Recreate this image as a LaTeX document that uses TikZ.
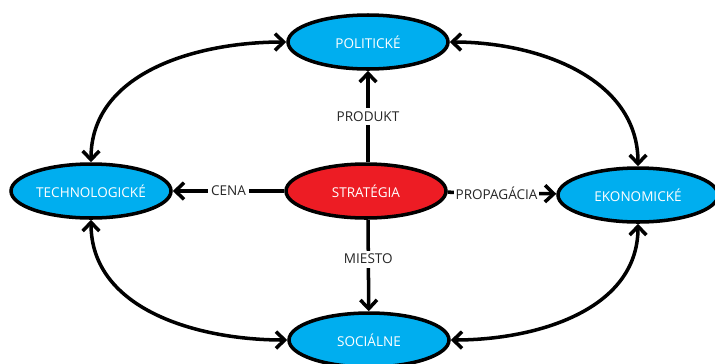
\documentclass[tikz,border=0pt]{standalone}
\usepackage{fontspec}
\setmainfont{Open Sans}
\usetikzlibrary{shapes.geometric,arrows.meta}
\definecolor{modra}{RGB}{0,174,239}
\definecolor{cervena}{RGB}{237,28,36}

\begin{document}
\begin{tikzpicture}[
    oblast/.style={ellipse, draw=black, line width=2pt, fill=modra,
        minimum width=3.2cm, minimum height=1.08cm, inner sep=0pt,
        text=white, font=\fontsize{7.7}{9}\selectfont},
    sipka/.style={line width=2pt, -{Straight Barb[length=5pt,width=9.5pt]}},
    obojsipka/.style={line width=2pt,
        {Straight Barb[length=5pt,width=9.5pt]}-{Straight Barb[length=5pt,width=9.5pt]}},
    popis/.style={fill=white, inner sep=2pt, text=black!85,
        font=\fontsize{7.7}{9}\selectfont}
]
    \useasboundingbox (0,0) rectangle (14.3,7.26);

    % Define the five areas
    \node[oblast] (pol) at (7.36, 6.42) {POLITICKÉ};
    \node[oblast] (tech) at (1.82, 3.44) {TECHNOLOGICKÉ};
    \node[oblast, fill=cervena] (strat) at (7.32, 3.44) {STRATÉGIA};
    \node[oblast] (ekon) at (12.76, 3.36) {EKONOMICKÉ};
    \node[oblast] (soc) at (7.38, 0.46) {SOCIÁLNE};

    % Draw arrows from the strategy
    \draw[sipka] (strat.north -| pol) -- (pol) node[midway, popis]{PRODUKT};
    \draw[sipka] (strat) -- (tech) node[midway, popis]{CENA};
    \draw[sipka] (strat) -- (ekon) node[pos=0.45, popis, inner sep=1pt]{PROPAGÁCIA};
    \draw[sipka] (strat.south -| pol) -- (soc) node[pos=0.43, popis]{MIESTO};

    % Curved arrows round the outside
    \draw[obojsipka] (tech.north) to[out=90, in=180] (pol.west);
    \draw[obojsipka] (pol.east) to[out=0, in=90] (ekon.north);
    \draw[obojsipka] (ekon.south) to[out=-90, in=0] (soc.east);
    \draw[obojsipka] (soc.west) to[out=180, in=-90] (tech.south);
\end{tikzpicture}
\end{document}
